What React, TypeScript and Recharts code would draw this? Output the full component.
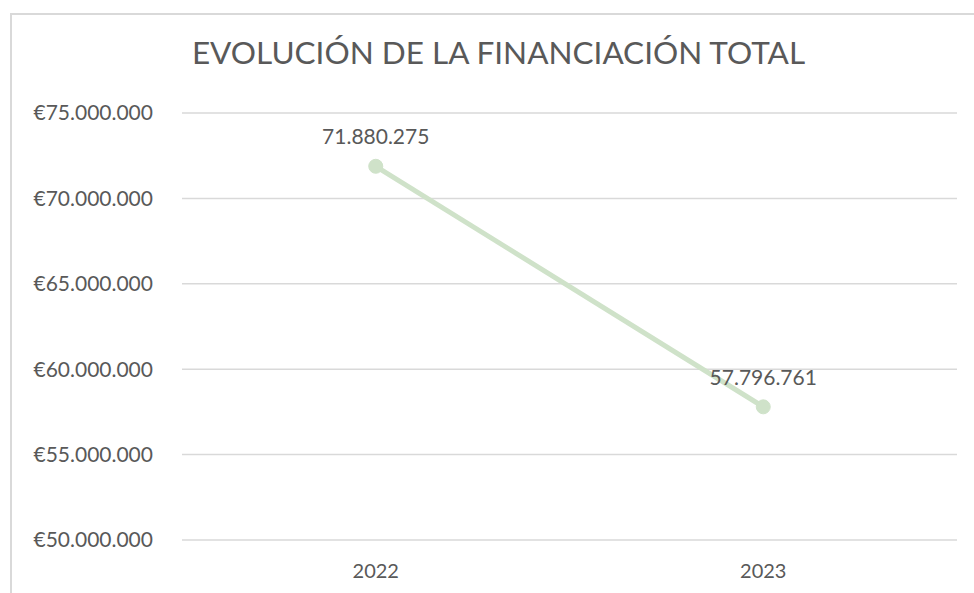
import React from "react";
import { LineChart, Line, XAxis, YAxis, CartesianGrid, LabelList } from "recharts";

const years = ["2022", "2023"];
const totals = [71880275, 57796761];
const yTicks = [50000000, 55000000, 60000000, 65000000, 70000000, 75000000];
const title = "EVOLUCIÓN DE LA FINANCIACIÓN TOTAL";

const data = years.map((y, i) => ({ year: y, total: totals[i] }));

const fmt = (v: number) => v.toLocaleString("de-DE");
const fmtEuro = (v: number) => "€" + v.toLocaleString("de-DE");

const FONT = "Lato, 'Open Sans', sans-serif";
const TEXT = "#595959";

export default function App() {
  return (
    <div style={{ position: "absolute", left: 0, top: 0, width: 974, height: 593, background: "#fff", overflow: "hidden" }}>
      <div
        style={{
          position: "absolute",
          left: 10,
          top: 13,
          width: 1000,
          height: 700,
          borderLeft: "2px solid #d9d9d9",
          borderTop: "2px solid #d9d9d9",
        }}
      />
      <div
        style={{
          position: "absolute",
          left: 0,
          top: 30,
          width: 997,
          textAlign: "center",
          fontFamily: FONT,
          fontSize: 31.5,
          color: TEXT,
          lineHeight: "44px",
        }}
      >
        {title}
      </div>
      <div style={{ position: "absolute", left: 0, top: 0 }}>
        <LineChart width={974} height={593} data={data} margin={{ top: 113, right: 17, bottom: 0, left: 0 }}>
          <CartesianGrid vertical={false} stroke="#d9d9d9" strokeWidth={1.5} />
          <XAxis
            dataKey="year"
            scale="band"
            axisLine={false}
            tickLine={false}
            tickSize={0}
            tickMargin={24}
            height={53}
            tick={{ fill: TEXT, fontFamily: FONT, fontSize: 20 }}
          />
          <YAxis
            width={182}
            domain={[50000000, 75000000]}
            ticks={yTicks}
            axisLine={false}
            tickLine={false}
            tickSize={0}
            tickMargin={29}
            tickFormatter={fmtEuro}
            tick={{ fill: TEXT, fontFamily: FONT, fontSize: 21 }}
          />
          <Line
            dataKey="total"
            stroke="#cfe2c9"
            strokeWidth={5}
            dot={{ r: 7, fill: "#cfe2c9", stroke: "#cfe2c9", strokeWidth: 1 }}
            isAnimationActive={false}
          >
            <LabelList
              dataKey="total"
              position="top"
              offset={22}
              formatter={(v: any) => fmt(Number(v))}
              style={{ fill: TEXT, fontFamily: FONT, fontSize: 21 }}
            />
          </Line>
        </LineChart>
      </div>
    </div>
  );
}
